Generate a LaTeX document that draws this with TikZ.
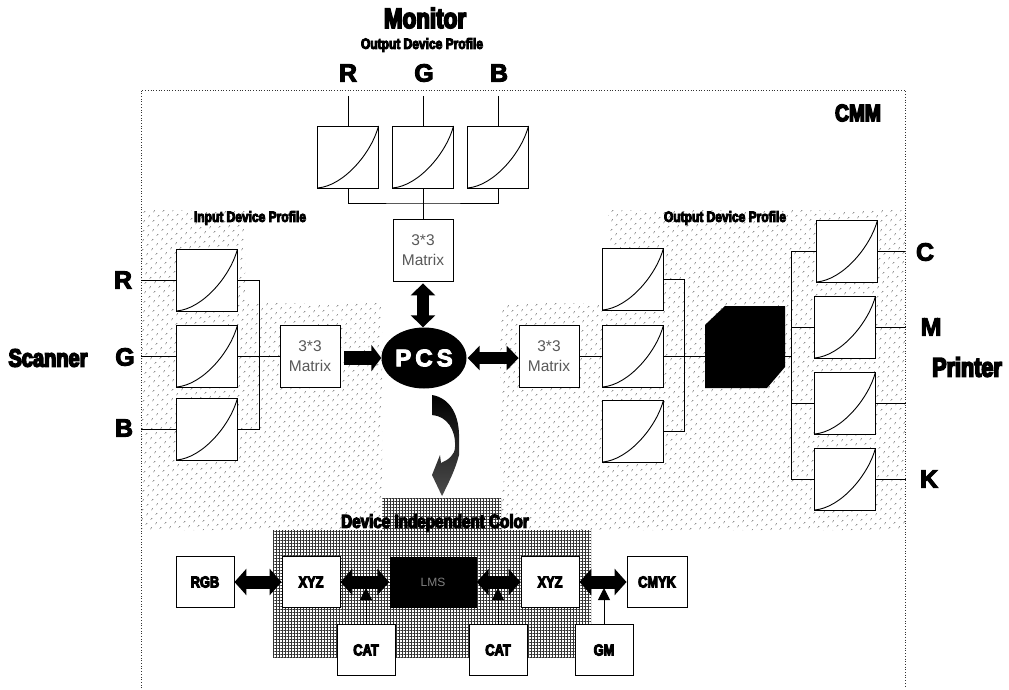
\documentclass[tikz,border=0pt]{standalone}
\usepackage{fontspec}
\usetikzlibrary{patterns.meta,arrows.meta,shapes.geometric,calc}
\setmainfont{Liberation Sans}
\newfontfamily\hv{Liberation Sans}[BoldFeatures={FakeBold=6,FakeStretch=0.8}]
\newfontfamily\hw{Liberation Sans}[BoldFeatures={FakeBold=4}]
\newcommand{\fs}[1]{\fontsize{#1}{#1}\selectfont}
\tikzset{
  curvebox/.style={draw,line width=.9pt,fill=white,minimum width=61pt,minimum height=62pt,inner sep=0,
    path picture={\draw[line width=.9pt] (path picture bounding box.south west) .. controls ($(path picture bounding box.south west)+(26,-2)$) and ($(path picture bounding box.north east)+(-7,27)$) .. (path picture bounding box.north east);}},
  matbox/.style={draw,line width=.8pt,fill=white,minimum width=60pt,minimum height=62pt,inner sep=0,align=center,font=\fs{15.5}\hw,text=black!65,text depth=0},
  labbox/.style={draw,line width=.9pt,fill=white,minimum width=58pt,minimum height=51pt,inner sep=0,font=\fs{16}\hv\bfseries},
  wire/.style={line width=.9pt},
  big/.style={font=\fs{25}\hw\bfseries,inner sep=0},
  title/.style={font=\fs{#1}\hv\bfseries,inner sep=0},
  fat/.style={line width=12pt,{Triangle[width=24pt,length=12pt]}-{Triangle[width=24pt,length=12pt]}},
  fatb/.style={line width=13pt,{Triangle[width=26pt,length=12pt]}-{Triangle[width=26pt,length=12pt]}},
  fatr/.style={line width=14pt,-{Triangle[width=26pt,length=10pt]}},
  up/.style={line width=.9pt,-{Triangle[width=12pt,length=12pt]}},
  stip/.style={pattern={Dots[distance=6.5pt,radius=.75pt,angle=45]},pattern color=black!85,draw=none},
  dense/.style={pattern={Hatch[distance=3pt,angle=0,line width=.9pt]},pattern color=black!80,draw=none},
  frame/.style={dotted,line width=.7pt,draw=black!80}
}
\begin{document}
\begin{tikzpicture}[x=1pt,y=-1pt]
\useasboundingbox (0,0) rectangle (1009,690);
% stipple region
\fill[stip] (141,210) -- (245,210) -- (245,303) -- (382,303) -- (382,530) -- (500,530) -- (500,303) -- (608,303) -- (608,210) -- (905,210) -- (905,530) -- (141,530) -- cycle;
\fill[dense] (382,498) rectangle (501,545);
\fill[dense] (273,530) rectangle (591,657);
% CMM frame
\draw[frame] (141,688) -- (141,90) -- (905,90) -- (905,688);
% monitor
\node[curvebox] (m1) at (348,157) {};
\node[curvebox] (m2) at (423,157) {};
\node[curvebox] (m3) at (498,157) {};
\node[big] (mr) at (348,73) {R};
\node[big] (mg) at (424,73) {G};
\node[big] (mb) at (499,73) {B};
\coordinate (mt1) at (348,96);
\coordinate (mt2) at (423,96);
\coordinate (mt3) at (498,96);
\draw[wire] (mt1) -- (m1.north);
\draw[wire] (mt2) -- (m2.north);
\draw[wire] (mt3) -- (m3.north);
\node[matbox] (mm) at (423,250) {3*3\\[5pt]Matrix};
\coordinate (mbus) at (423,203);
\draw[wire] (m1.south) |- (mbus) -| (m3.south);
\draw[wire] (m2.south) -- (mm.north);
\node[title=28] (monitor) at (425,18) {Monitor};
\node[title=15] (outm) at (422,45) {Output Device Profile};
% input
\node[curvebox] (i1) at (207,280) {};
\node[curvebox] (i2) at (207,356) {};
\node[curvebox] (i3) at (207,429) {};
\node[big] (ir) at (123,280) {R};
\node[big] (ig) at (125,357) {G};
\node[big] (ib) at (124,428) {B};
\node[title=25] (scanner) at (48,358) {Scanner};
\node[title=15] (ilab) at (250,218) {Input Device Profile};
\coordinate (il1) at (141,280);
\coordinate (il2) at (141,356);
\coordinate (il3) at (141,429);
\draw[wire] (il1) -- (i1.west);
\draw[wire] (il2) -- (i2.west);
\draw[wire] (il3) -- (i3.west);
\node[matbox] (im) at (310,356) {3*3\\[5pt]Matrix};
\coordinate (ibus) at (259,356);
\draw[wire] (i1.east) -| (ibus);
\draw[wire] (i3.east) -| (ibus);
\draw[wire] (i2.east) -- (im.west);
% PCS
\node[ellipse,fill=black,minimum width=85pt,minimum height=61pt,inner sep=0,text=white,font=\fs{24}\hw\bfseries] (pcs) at (424,358) {P\,C\,S};
\draw[fatr] ([xshift=4pt,yshift=-2pt]im.east) -- (pcs.west);
\draw[fat] ([yshift=-2pt]mm.south) -- (mm.south |- pcs.north);
% output
\node[matbox] (om) at (549,356) {3*3\\[5pt]Matrix};
\draw[fat] ([xshift=1pt]pcs.east) -- ([yshift=-2pt]om.west);
\node[curvebox] (o1) at (633,279) {};
\node[curvebox] (o2) at (633,356) {};
\node[curvebox] (o3) at (633,431) {};
\draw[wire] (om.east) -- (o2.west);
\node[title=15] (olab) at (725,218) {Output Device Profile};
\fill[black] (705,325) -- (725,306) -- (785,306) -- (785,367) -- (767,388) -- (705,388) -- cycle;
\coordinate (cubeW) at (705,356);
\coordinate (cubeE) at (785,356);
\coordinate (obus) at (684,356);
\draw[wire] (o1.east) -| (obus);
\draw[wire] (o3.east) -| (obus);
\draw[wire] (o2.east) -- (cubeW);
% printer
\node[curvebox] (p1) at (847,251) {};
\node[curvebox] (p2) at (845,327) {};
\node[curvebox] (p3) at (845,403) {};
\node[curvebox] (p4) at (845,479) {};
\coordinate (pbus) at (791,356);
\draw[wire] (cubeE) -- (pbus);
\draw[wire] (p1.west) -| (pbus);
\draw[wire] (p4.west) -| (pbus);
\draw[wire] (p2.west) -| (pbus);
\draw[wire] (p3.west) -| (pbus);
\coordinate (po1) at (905,251);
\coordinate (po2) at (906,327);
\coordinate (po3) at (906,403);
\coordinate (po4) at (906,479);
\draw[wire] (p1.east) -- (po1);
\draw[wire] (p2.east) -- (po2);
\draw[wire] (p3.east) -- (po3);
\draw[wire] (p4.east) -- (po4);
\node[big] (pc) at (925,252) {C};
\node[big] (pm) at (931,327) {M};
\node[big] (pk) at (929,479) {K};
\node[title=27] (printer) at (967,367) {Printer};
\node[title=24] (cmm) at (858,113) {CMM};
% curved arrow
\shade[top color=black,middle color=black,bottom color=black!70] (432,395) .. controls (450,398) and (460,415) .. (459,440) -- (459,455) .. controls (455,470) and (450,480) .. (442,496) -- (432,475) -- (440,455) -- (441,463) .. controls (448,460) and (455,455) .. (455,447) .. controls (456,430) and (447,416) .. (432,415) -- cycle;
% bottom
\node[title=19] (devlab) at (435,523) {Device Independent Color};
\node[labbox] (rgb) at (205,582) {RGB};
\node[labbox] (x1) at (311,582) {XYZ};
\node[fill=black,minimum width=87pt,minimum height=51pt,inner sep=0,text=black!50,font=\fs{12}\hw] (lms) at (433,582) {LMS};
\node[labbox] (x2) at (550,582) {XYZ};
\node[labbox,minimum width=60pt] (cmk) at (657,582) {CMYK};
\node[labbox] (c1) at (366,650) {CAT};
\node[labbox] (c2) at (498,650) {CAT};
\node[labbox] (gm) at (604,650) {GM};
\draw[fatb] (rgb.east) -- (x1.west);
\draw[fatb] (x1.east) -- (lms.west);
\draw[fatb] (lms.east) -- (x2.west);
\draw[fatb] (x2.east) -- (cmk.west);
\draw[up] (c1.north) -- ([yshift=-6pt]c1.north |- x1.east);
\draw[up] (c2.north) -- ([yshift=-6pt]c2.north |- x1.east);
\draw[up] (gm.north) -- ([yshift=-6pt]gm.north |- x1.east);
\end{tikzpicture}
\end{document}
